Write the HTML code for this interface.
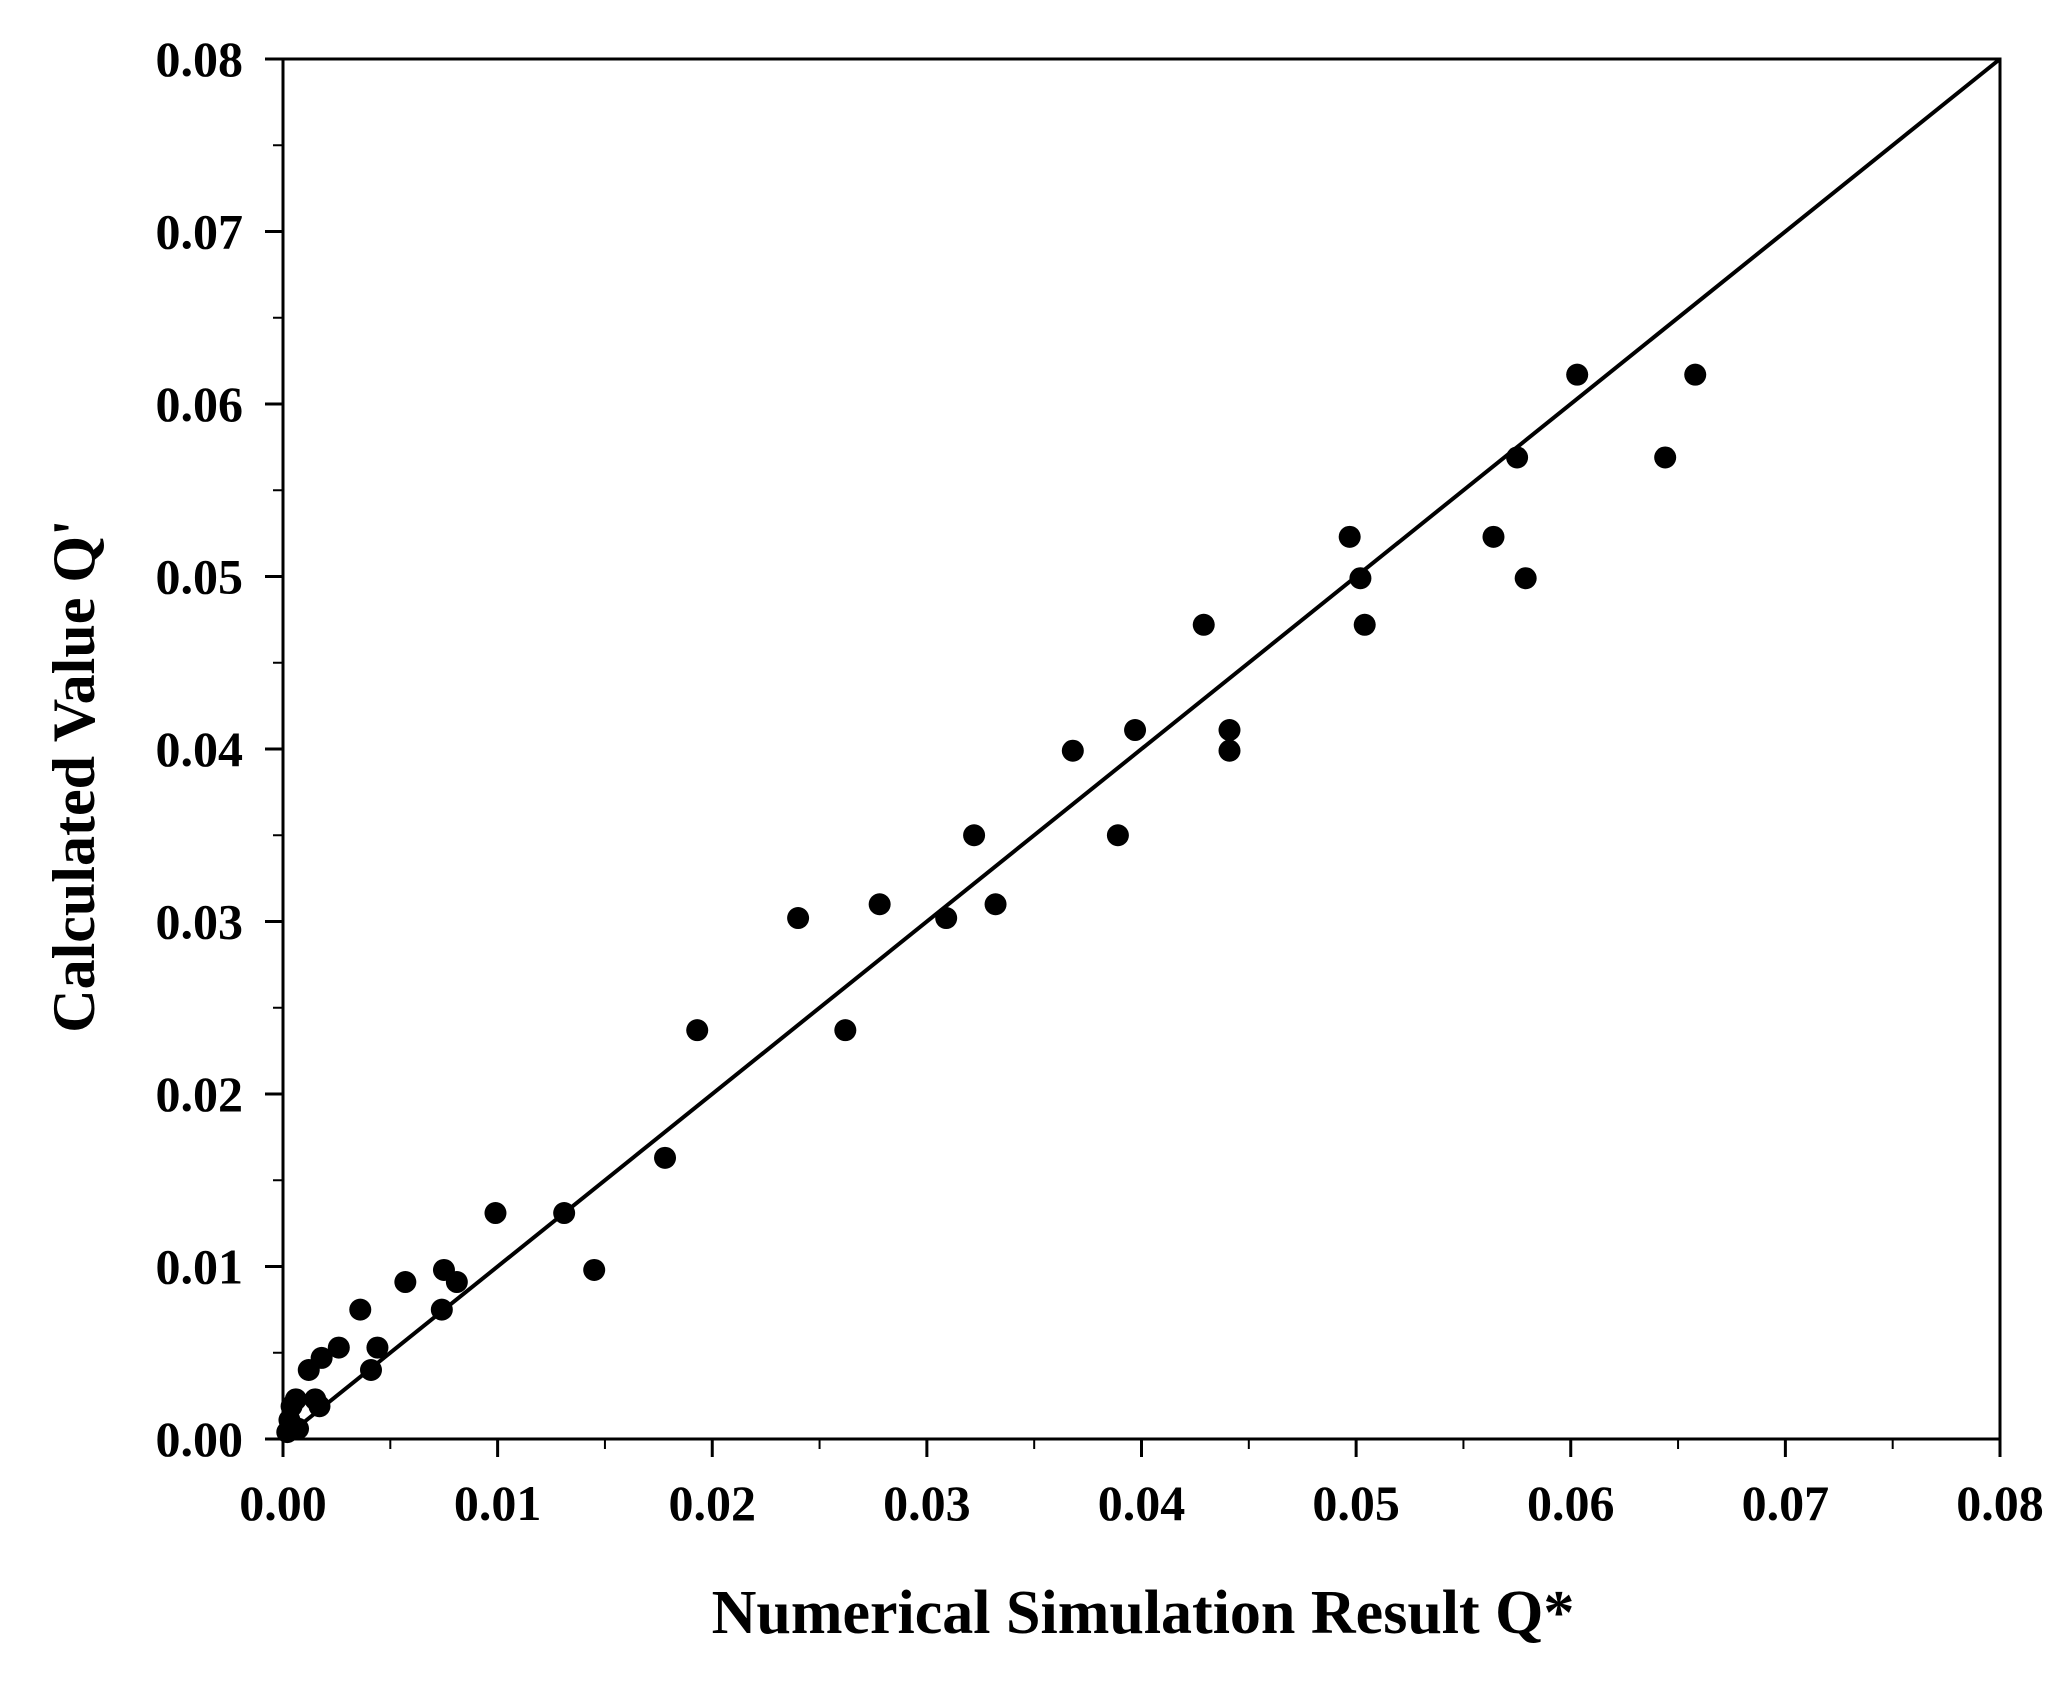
<!DOCTYPE html>
<html><head><meta charset="utf-8"><style>
body{margin:0;background:#fff}
svg text{font-family:"Liberation Serif",serif;font-weight:bold;fill:#000}
</style></head><body>
<svg id="chart" width="2064" height="1693" xmlns="http://www.w3.org/2000/svg">
<g id="axes"></g><g id="marks"></g>
<text x="1143" y="1633" font-size="62" text-anchor="middle">Numerical Simulation Result Q*</text>
<text transform="translate(94,776) rotate(-90)" font-size="60" text-anchor="middle">Calculated Value Q'</text>
</svg>
<script>
const xValues=[0.0603,0.0658,0.0575,0.0644,0.0497,0.0564,0.0502,0.0579,0.0429,0.0504,0.0397,0.0441,0.0368,0.0441,0.0322,0.0389,0.0278,0.0332,0.0240,0.0309,0.0193,0.0262,0.0178,0.0099,0.0131,0.0145,0.0075,0.0057,0.0081,0.0036,0.0074,0.0026,0.0044,0.0018,0.0012,0.0041,0.0006,0.0015,0.0004,0.0017,0.0003,0.0007,0.0002];
const yValues=[0.0617,0.0617,0.0569,0.0569,0.0523,0.0523,0.0499,0.0499,0.0472,0.0472,0.0411,0.0411,0.0399,0.0399,0.0350,0.0350,0.0310,0.0310,0.0302,0.0302,0.0237,0.0237,0.0163,0.0131,0.0131,0.0098,0.0098,0.0091,0.0091,0.0075,0.0075,0.0053,0.0053,0.0047,0.0040,0.0040,0.0023,0.0023,0.0019,0.0019,0.0011,0.0006,0.0004];
const tickLabels=["0.00","0.01","0.02","0.03","0.04","0.05","0.06","0.07","0.08"];
const tickValues=[0,0.01,0.02,0.03,0.04,0.05,0.06,0.07,0.08];
const lineValues=[0,0.08];
const L=283,R=2000,T=59,B=1439,MAX=0.08;
const sx=v=>L+v/MAX*(R-L), sy=v=>B-v/MAX*(B-T);
const NS="http://www.w3.org/2000/svg";
const axes=document.getElementById('axes'), marks=document.getElementById('marks');
function mk(tag,attrs,parent){const e=document.createElementNS(NS,tag);for(const k in attrs)e.setAttribute(k,attrs[k]);parent.appendChild(e);return e;}
const frame=mk('rect',{x:L,y:T,width:R-L,height:B-T,fill:'none',stroke:'#000','stroke-width':3},axes);


tickValues.forEach((v,i)=>{
  const tx=mk('line',{x1:sx(v),x2:sx(v),y1:B,y2:B+18,stroke:'#000','stroke-width':3},axes);
  
  
  const ty=mk('line',{x1:L-18,x2:L,y1:sy(v),y2:sy(v),stroke:'#000','stroke-width':3},axes);
  
  
  if(i<tickValues.length-1){
    const h=v+0.005;
    const mx=mk('line',{x1:sx(h),x2:sx(h),y1:B,y2:B+10,stroke:'#000','stroke-width':2},axes);
    
    
    const my=mk('line',{x1:L-10,x2:L,y1:sy(h),y2:sy(h),stroke:'#000','stroke-width':2},axes);
    
    
  }
  const xl=mk('text',{x:sx(v),y:B+81,'font-size':50,'text-anchor':'middle'},axes);
  xl.textContent=tickLabels[i];
  
  
  const yl=mk('text',{x:L-40,y:sy(v)+17,'font-size':50,'text-anchor':'end'},axes);
  yl.textContent=tickLabels[i];
  
  
});
const ref=mk('line',{x1:sx(lineValues[0]),y1:sy(lineValues[0]),x2:sx(lineValues[1]),y2:sy(lineValues[1]),stroke:'#000','stroke-width':4},marks);


xValues.forEach((x,i)=>{
  const c=mk('circle',{cx:sx(x),cy:sy(yValues[i]),r:11,fill:'#000'},marks);
  
  
});
</script>
</body></html>
